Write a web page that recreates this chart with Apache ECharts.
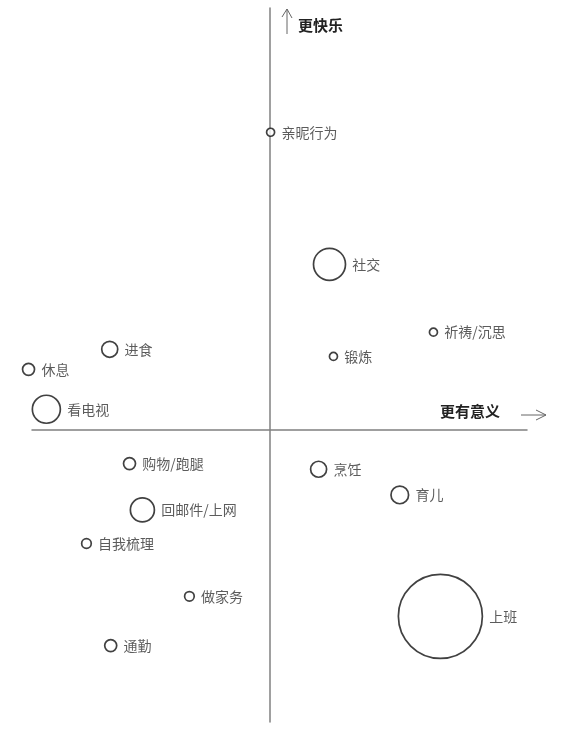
<!DOCTYPE html>
<html>
<head>
<meta charset="utf-8">
<script src="https://cdn.jsdelivr.net/npm/echarts@6/dist/echarts.min.js"></script>
<style>
  html, body { margin: 0; padding: 0; background: #fff; }
  #main { width: 566px; height: 730px; }
</style>
</head>
<body>
<div id="main"></div>
<script>
// activities, meaning (x) vs happiness (y), bubble = time spent
let activities = ['亲昵行为', '社交', '祈祷/沉思', '锻炼', '进食', '休息', '看电视',
    '购物/跑腿', '烹饪', '育儿', '回邮件/上网', '自我梳理', '做家务', '通勤', '上班'];
let meaning = [0.2, 12.1, 33.1, 12.9, -32.3, -48.7, -45.1, -28.3, 9.9, 26.3, -25.7, -37.0, -16.2, -32.1, 34.5];
let happiness = [41.6, 23.1, 13.6, 10.2, 11.2, 8.4, 2.8, -4.8, -5.6, -9.2, -11.3, -16.0, -23.4, -30.3, -26.2];
let timeSpent = [1, 4, 1, 1, 2, 1.5, 3.5, 1.5, 2, 2.2, 3, 1.2, 1.2, 1.5, 10.5];

let points = activities.map((name, i) => [meaning[i], happiness[i], timeSpent[i], name]);

let myChart = echarts.init(document.getElementById('main'));

let options = {
    backgroundColor: '#fff',
    animation: false,
    grid: { left: 32, right: 39, top: 8, bottom: 8 },
    xAxis: {
        type: 'value', min: -48, max: 52,
        splitLine: { show: false },
        axisTick: { show: false },
        axisLabel: { show: false },
        axisLine: { onZero: true, lineStyle: { color: '#808080', width: 1.5 } }
    },
    yAxis: {
        type: 'value', min: -41, max: 59,
        splitLine: { show: false },
        axisTick: { show: false },
        axisLabel: { show: false },
        axisLine: { onZero: true, lineStyle: { color: '#808080', width: 1.5 } }
    },
    graphic: [
        { type: 'line', shape: { x1: 287, y1: 34, x2: 287, y2: 9 }, style: { stroke: '#666', lineWidth: 1 } },
        { type: 'polyline', shape: { points: [[282, 17], [287, 9], [292, 18]] }, style: { stroke: '#666', lineWidth: 1, fill: null } },
        { type: 'text', left: 298, top: 18, style: { text: '更快乐', font: 'bold 15px "Noto Sans CJK SC"', fill: '#222' } },
        { type: 'text', left: 440, top: 404, style: { text: '更有意义', font: 'bold 15px "Noto Sans CJK SC"', fill: '#222' } },
        { type: 'line', shape: { x1: 521, y1: 415, x2: 546, y2: 415 }, style: { stroke: '#666', lineWidth: 1 } },
        { type: 'polyline', shape: { points: [[536, 410], [546, 415], [536, 420]] }, style: { stroke: '#666', lineWidth: 1, fill: null } }
    ],
    series: [{
        type: 'scatter',
        clip: false,
        data: points,
        symbol: 'circle',
        symbolSize: val => 8 * val[2],
        itemStyle: { color: '#fff', borderColor: '#111', borderWidth: 1.7 },
        label: {
            show: true,
            position: 'right',
            distance: 6,
            formatter: p => p.data[3],
            fontFamily: 'Noto Sans CJK SC',
            fontSize: 14,
            color: '#333'
        }
    }]
};

myChart.setOption(options);
</script>
</body>
</html>
